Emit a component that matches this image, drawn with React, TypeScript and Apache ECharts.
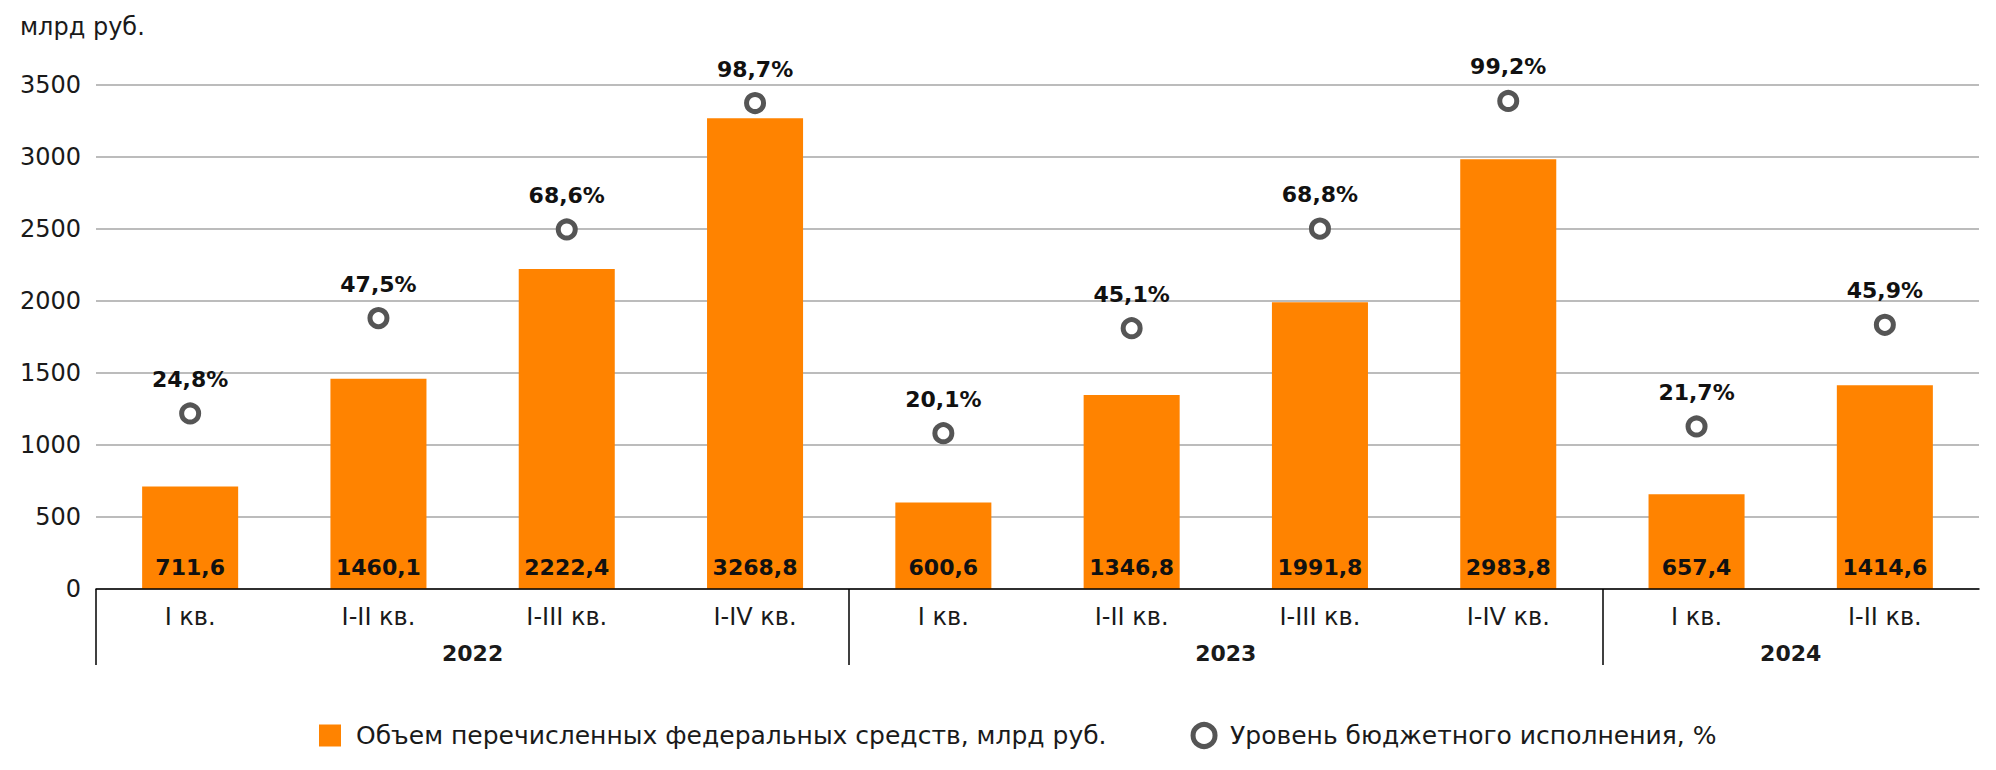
import React, { useEffect, useRef } from "react";
import * as echarts from "echarts";

const quarters = ["I кв.", "I-II кв.", "I-III кв.", "I-IV кв.", "I кв.", "I-II кв.", "I-III кв.", "I-IV кв.", "I кв.", "I-II кв."];
const years = ["2022", "2023", "2024"];
const yearQuarterCounts = [4, 4, 2];
const volumes = [711.6, 1460.1, 2222.4, 3268.8, 600.6, 1346.8, 1991.8, 2983.8, 657.4, 1414.6];
const execution = [24.8, 47.5, 68.6, 98.7, 20.1, 45.1, 68.8, 99.2, 21.7, 45.9];
const yTicks = [0, 500, 1000, 1500, 2000, 2500, 3000, 3500];

const barName = "Объем перечисленных федеральных средств, млрд руб.";
const dotName = "Уровень бюджетного исполнения, %";
const unitLabel = "млрд руб.";

const FONT = "DejaVu Sans";
const TEXT = "#1a1a1a";

function fmt(v: number): string {
  return v.toFixed(1).replace(".", ",");
}

export default function App() {
  const ref = useRef<HTMLDivElement>(null);
  useEffect(() => {
    if (!ref.current) return;
    document.body.style.margin = "0";
    const chart = echarts.init(ref.current, null, { renderer: "svg" });

    const bounds: number[] = [];
    const centers: number[] = [];
    let acc = 0;
    yearQuarterCounts.forEach((c) => {
      bounds.push(acc);
      centers.push(acc + c / 2);
      acc += c;
    });
    const total = acc;

    chart.setOption({
      animation: false,
      textStyle: { fontFamily: FONT },
      title: {
        text: unitLabel,
        left: 15,
        top: 10,
        textStyle: { fontFamily: FONT, fontSize: 24, fontWeight: "normal", color: TEXT },
      },
      grid: [
        { left: 96, right: 17, top: 85, bottom: 181, containLabel: false },
        { left: 96, right: 17, top: 589, height: 76, containLabel: false },
      ],
      legend: {
        left: 314,
        top: 717,
        itemWidth: 22,
        itemHeight: 22,
        itemGap: 84,
        textStyle: { fontFamily: FONT, fontSize: 25, color: TEXT, padding: [0, 0, 0, 10] },
        data: [
          { name: barName, icon: "rect" },
          { name: dotName, icon: "circle", itemStyle: { color: "#fff", borderColor: "#555", borderWidth: 5 } },
        ],
      },
      xAxis: [
        {
          type: "category",
          gridIndex: 0,
          data: quarters,
          position: "bottom",
          axisLine: { show: true, lineStyle: { color: "#000", width: 1.5 } },
          axisTick: { show: false },
          axisLabel: { fontFamily: FONT, fontSize: 24, color: TEXT, margin: 16, interval: 0 },
          splitLine: { show: false },
          z: 5,
        },
        {
          type: "value",
          gridIndex: 0,
          min: 0,
          max: total,
          position: "bottom",
          axisLine: { show: false, onZero: false },
          splitLine: { show: false },
          axisTick: { show: false },
          axisLabel: {
            show: true,
            customValues: centers,
            margin: 53,
            fontFamily: FONT,
            fontSize: 22,
            fontWeight: "bold",
            color: TEXT,
            formatter: (v: number) => {
              const i = centers.indexOf(v);
              return i >= 0 ? years[i] : "";
            },
          },
        },
        {
          type: "value",
          gridIndex: 1,
          min: 0,
          max: total,
          position: "bottom",
          axisLine: { show: false, onZero: false },
          axisTick: { show: false, customValues: bounds },
          axisLabel: { show: false },
          splitLine: { show: true, lineStyle: { color: "#000", width: 1.5 } },
        },
      ],
      yAxis: [
        {
          type: "value",
          gridIndex: 0,
          min: yTicks[0],
          max: yTicks[yTicks.length - 1],
          interval: yTicks[1] - yTicks[0],
          axisLine: { show: false },
          axisTick: { show: false },
          axisLabel: {
            fontFamily: FONT,
            fontSize: 24,
            color: TEXT,
            margin: 15,
            formatter: (v: number) => String(v),
          },
          splitLine: { show: true, lineStyle: { color: "#a6a6a6", width: 1.5 } },
        },
        {
          type: "value",
          gridIndex: 0,
          min: -17,
          max: 103,
          show: false,
          splitLine: { show: false },
        },
        {
          type: "value",
          gridIndex: 1,
          min: 0,
          max: 1,
          show: false,
          splitLine: { show: false },
        },
      ],
      series: [
        {
          name: barName,
          type: "bar",
          data: volumes,
          barWidth: "51%",
          itemStyle: { color: "#ff8300" },
          label: {
            show: true,
            position: "insideBottom",
            distance: 11,
            fontFamily: FONT,
            fontSize: 22,
            fontWeight: "bold",
            color: "#111",
            formatter: (p: any) => fmt(p.value),
          },
          z: 2,
        },
        {
          name: dotName,
          type: "scatter",
          yAxisIndex: 1,
          data: execution,
          symbol: "circle",
          symbolSize: 17,
          itemStyle: { color: "#fff", borderColor: "#555", borderWidth: 5, opacity: 1 },
          label: {
            show: true,
            position: "top",
            distance: 12,
            fontFamily: FONT,
            fontSize: 22,
            fontWeight: "bold",
            color: "#111",
            formatter: (p: any) => fmt(p.value) + "%",
          },
          z: 3,
        },
      ],
    });
    return () => chart.dispose();
  }, []);
  return <div ref={ref} style={{ position: "absolute", left: 0, top: 0, width: 1996, height: 770 }} />;
}
